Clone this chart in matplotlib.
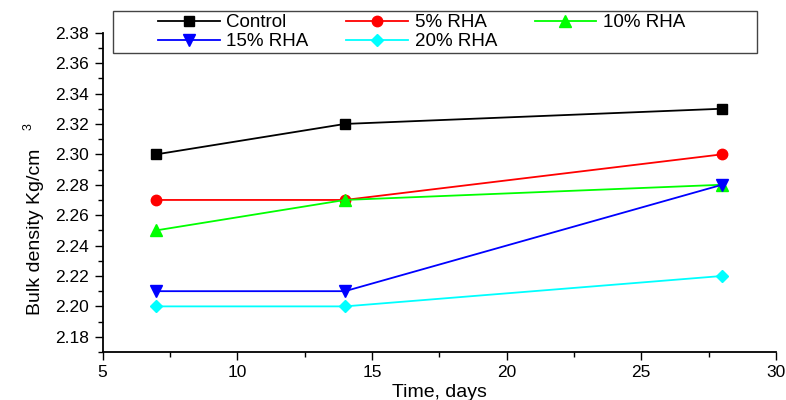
import matplotlib
matplotlib.use("Agg")
import matplotlib.pyplot as plt
from matplotlib.ticker import MultipleLocator
from matplotlib.patches import Rectangle

days = [7, 14, 28]
control = [2.30, 2.32, 2.33]
rha5 = [2.27, 2.27, 2.30]
rha10 = [2.25, 2.27, 2.28]
rha15 = [2.21, 2.21, 2.28]
rha20 = [2.20, 2.20, 2.22]
series_labels = ["Control", "5% RHA", "10% RHA", "15% RHA", "20% RHA"]

plt.rcParams['font.family'] = ['Liberation Sans', 'DejaVu Sans']

fig = plt.figure(figsize=(7.86, 4.0), dpi=100)
W, H = 786, 400
ax = fig.add_axes([102.5 / W, 1 - 352 / H, (776 - 102.5) / W, (352 - 32.7) / H])

styles = [
    dict(color="black", marker="s", ms=7),
    dict(color="red", marker="o", ms=7.5),
    dict(color="#00ff00", marker="^", ms=8),
    dict(color="blue", marker="v", ms=8),
    dict(color="cyan", marker="D", ms=6.5),
]
handles = []
for data, lab, st in zip([control, rha5, rha10, rha15, rha20], series_labels, styles):
    h, = ax.plot(days, data, color=st["color"], marker=st["marker"], markersize=st["ms"],
                 markeredgecolor=st["color"], markerfacecolor=st["color"], linewidth=1.3,
                 label=lab, clip_on=False)
    handles.append(h)

ax.set_xlim(5, 30)
ax.set_ylim(2.17, 2.38)
ax.xaxis.set_major_locator(MultipleLocator(5))
ax.xaxis.set_minor_locator(MultipleLocator(2.5))
ax.yaxis.set_major_locator(MultipleLocator(0.02))
ax.yaxis.set_minor_locator(MultipleLocator(0.01))
ax.yaxis.set_major_formatter(matplotlib.ticker.FormatStrFormatter('%.2f'))
for s in ["top", "right"]:
    ax.spines[s].set_visible(False)
for s in ["left", "bottom"]:
    ax.spines[s].set_linewidth(1.3)
ax.tick_params(axis="both", which="major", direction="out", length=6, width=1, labelsize=12.5)
ax.tick_params(axis="both", which="minor", direction="out", length=3.5, width=1)

ax.set_xlabel("Time, days", fontsize=14, labelpad=3)

fig.text(36 / W, 1 - 232 / H, "Bulk density Kg/cm", rotation=90, ha="center", va="center",
         fontsize=14)
fig.text(29 / W, 1 - 127 / H, "3", rotation=90, ha="center", va="center", fontsize=9)

# legend frame
fig.patches.append(Rectangle((113 / W, 1 - 53 / H), (757 - 113) / W, 42 / H,
                             transform=fig.transFigure, fill=False, edgecolor="#444444",
                             linewidth=1.0, zorder=5))

order = [handles[i] for i in [0, 3, 1, 4, 2]]
leg = fig.legend(order, [h.get_label() for h in order], ncol=3, loc="upper left",
                 bbox_to_anchor=(158 / W, 1 - 14 / H),
                 fontsize=13.5, handlelength=3.3, handletextpad=0.35,
                 borderpad=0.0, labelspacing=0.1, columnspacing=2.0,
                 frameon=False, borderaxespad=0)

fig.savefig("out.png", dpi=100)
